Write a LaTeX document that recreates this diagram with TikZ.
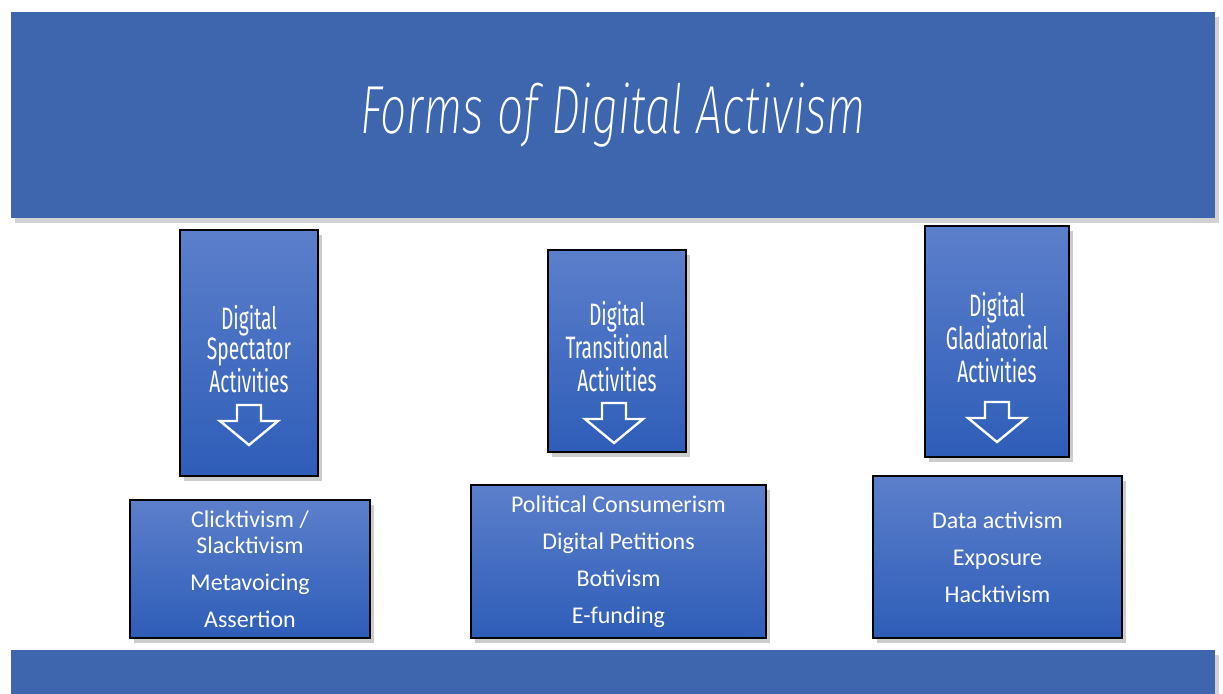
\documentclass[tikz,border=0pt]{standalone}
\usepackage{fontspec}
\usepackage{graphicx}
\setmainfont{Carlito}
\newfontfamily\agency{Fira Sans}
\newfontfamily\agencythin{Fira Sans}[UprightFont=* ExtraLight, ItalicFont=* ExtraLight Italic]
\usetikzlibrary{shadows}

\definecolor{bannerblue}{RGB}{61,102,175}
\definecolor{boxtop}{RGB}{92,127,203}
\definecolor{boxbottom}{RGB}{46,93,184}

% narrow headline lettering
\newcommand{\squeeze}[2][0.62]{\scalebox{#1}[1]{\begin{tabular}{@{}c@{}}#2\end{tabular}}}

\begin{document}
\begin{tikzpicture}[x=0.5pt, y=-0.5pt]
        \tikzstyle{banner} = [fill=bannerblue, inner sep=0pt, text=white,
          drop shadow={shadow xshift=2pt, shadow yshift=-2.5pt, opacity=.35}]
        \tikzstyle{stage} = [draw=black, line width=1pt, top color=boxtop, bottom color=boxbottom,
          text=white, inner sep=0pt, drop shadow={shadow xshift=2pt, shadow yshift=-2.5pt, opacity=.4},
          font=\agency\fontsize{15.5}{14.5}\selectfont]
        \tikzstyle{forms} = [stage, align=center, font=\fontsize{12}{13}\selectfont]
        \tikzset{hollow arrow/.pic={
          \draw[white, line width=1.2pt] (-12,-20) -- (-12,-4) -- (-29,-4) -- (0,20) -- (29,-4) -- (12,-4) -- (12,-20) -- cycle;}}

        \useasboundingbox[fill=white] (0,0) rectangle (1223,693);

        % banners
        \node[banner, minimum width=602pt, minimum height=103pt] (title) at (613,115)
          {\agencythin\itshape\fontsize{34}{40}\selectfont\scalebox{0.68}[1]{Forms of Digital Activism}};
        \node[banner, minimum width=602pt, minimum height=50pt] (footer) at (613,700) {};

        % the three kinds of activity
        \node[stage, minimum width=69pt, minimum height=123pt] (spectator) at (249,353)
          {\squeeze{Digital\\Spectator\\Activities}};
        \node[stage, minimum width=69pt, minimum height=101pt] (transitional) at (617,351)
          {\squeeze{Digital\\Transitional\\Activities}};
        \node[stage, minimum width=72pt, minimum height=115.5pt] (gladiatorial) at (997,341.5)
          {\squeeze{Digital\\Gladiatorial\\Activities}};
        \pic at (249,425) {hollow arrow};
        \pic at (614,423) {hollow arrow};
        \pic at (997,422) {hollow arrow};

        % what each kind covers
        \node[forms, minimum width=120pt, minimum height=69pt] (spectatorforms) at (250,569)
          {Clicktivism /\\Slacktivism\\[5.5pt]Metavoicing\\[5.5pt]Assertion};
        \node[forms, minimum width=147.5pt, minimum height=76.5pt] (transitionalforms) at (618.5,561.5)
          {Political Consumerism\\[5.5pt]Digital Petitions\\[5.5pt]Botivism\\[5.5pt]E-funding};
        \node[forms, minimum width=124.5pt, minimum height=81pt] (gladiatorialforms) at (997.5,557)
          {Data activism\\[5.5pt]Exposure\\[5.5pt]Hacktivism};
      \end{tikzpicture}
\end{document}
